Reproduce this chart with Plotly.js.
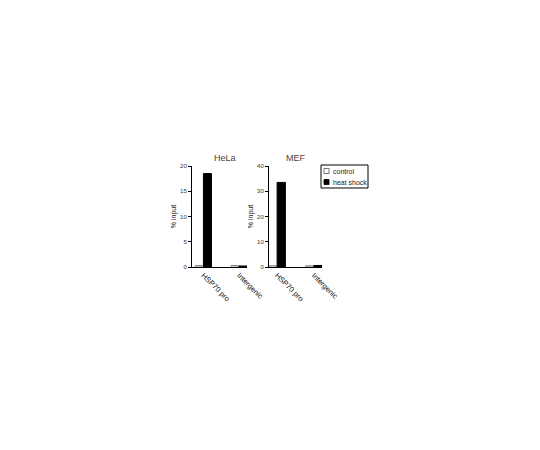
<!DOCTYPE html>
<html>
<head>
<meta charset="utf-8">
<script src="https://cdn.plot.ly/plotly-3.0.1.min.js"></script>
<style>
  body { margin: 0; background: #fff; }
  #chart { width: 540px; height: 450px; }
</style>
</head>
<body>
<div id="chart"></div>
<script>
// Categories on the x axis of each panel
const regions = ['HSP70 pro', 'Intergenic'];
const seriesNames = ['control', 'heat shock'];

// % input values
const helaControl = [0.3, 0.3];
const helaHeatShock = [18.5, 0.2];
const mefControl = [0.5, 0.5];
const mefHeatShock = [33.5, 0.6];

const W = 540;
const H = 450;
const font = { family: 'Liberation Sans, Arial, sans-serif', size: 7, color: '#333' };

// pixel -> paper helpers
const px = (x) => x / W;
const py = (y) => (H - y) / H;

function controlTrace(y, xa, ya) {
  return {
    x: regions, y, xaxis: xa, yaxis: ya,
    type: 'bar', name: seriesNames[0], showlegend: false,
    marker: { color: '#fff', line: { color: '#888', width: 1 } },
  };
}

function heatTrace(y, xa, ya) {
  return {
    x: regions, y, xaxis: xa, yaxis: ya,
    type: 'bar', name: seriesNames[1], showlegend: false,
    marker: { color: '#000', line: { color: '#000', width: 1 } },
  };
}

const data = [
  controlTrace(helaControl, 'x', 'y'),
  heatTrace(helaHeatShock, 'x', 'y'),
  controlTrace(mefControl, 'x2', 'y2'),
  heatTrace(mefHeatShock, 'x2', 'y2'),
];

// Shared look of the axes
const xBase = {
  type: 'category', tickangle: 45, ticks: '', showline: true,
  linecolor: '#000', linewidth: 1, showgrid: false, zeroline: false,
  tickfont: { ...font, size: 7.5, color: '#111' },
};
const yBase = {
  ticks: 'outside', ticklen: 3, tickcolor: '#000', showline: true,
  linecolor: '#000', linewidth: 1, showgrid: false, zeroline: false,
  tickfont: { ...font, size: 6 },
  title: { text: '% input', font: { ...font, size: 7, color: '#222' }, standoff: 2 },
};

// Hand-drawn legend box in the top right, like the original figure
const legendShapes = [
  { type: 'rect', xref: 'paper', yref: 'paper', x0: px(321), x1: px(368), y0: py(165), y1: py(188),
    line: { color: '#000', width: 1 }, fillcolor: '#fff' },
  { type: 'rect', xref: 'paper', yref: 'paper', x0: px(324), x1: px(329), y0: py(168.5), y1: py(173.5),
    line: { color: '#555', width: 0.8 }, fillcolor: '#fff' },
  { type: 'rect', xref: 'paper', yref: 'paper', x0: px(324), x1: px(329), y0: py(179.5), y1: py(184.5),
    line: { color: '#000', width: 0.8 }, fillcolor: '#000' },
];
const legendLabels = seriesNames.map((name, i) => ({
  text: name, xref: 'paper', yref: 'paper', x: px(331), y: py(171 + i * 11),
  xanchor: 'left', yanchor: 'middle', showarrow: false,
  font: { ...font, size: 7, color: '#222' },
}));

const layout = {
  width: W, height: H,
  margin: { l: 0, r: 0, t: 0, b: 0 },
  paper_bgcolor: '#fff', plot_bgcolor: 'rgba(0,0,0,0)',
  font,
  barmode: 'group', bargap: 0.55, bargroupgap: 0,
  showlegend: false,
  xaxis: { ...xBase, domain: [px(192), px(247)], range: [-0.32, 1.22] },
  yaxis: { ...yBase, domain: [py(267), py(166)], range: [0, 20], tickvals: [0, 5, 10, 15, 20], anchor: 'x' },
  xaxis2: { ...xBase, domain: [px(269), px(322)], range: [-0.22, 1.22], anchor: 'y2' },
  yaxis2: { ...yBase, domain: [py(267), py(166)], range: [0, 40], tickvals: [0, 10, 20, 30, 40], anchor: 'x2' },
  shapes: legendShapes,
  annotations: [
    { text: 'HeLa', x: px(225), y: py(158), xref: 'paper', yref: 'paper',
      showarrow: false, font: { ...font, size: 9, color: '#444' } },
    { text: 'MEF', x: px(296), y: py(158), xref: 'paper', yref: 'paper',
      showarrow: false, font: { ...font, size: 9, color: '#444' } },
    ...legendLabels,
  ],
};

Plotly.newPlot('chart', data, layout, { staticPlot: true });
</script>
</body>
</html>
